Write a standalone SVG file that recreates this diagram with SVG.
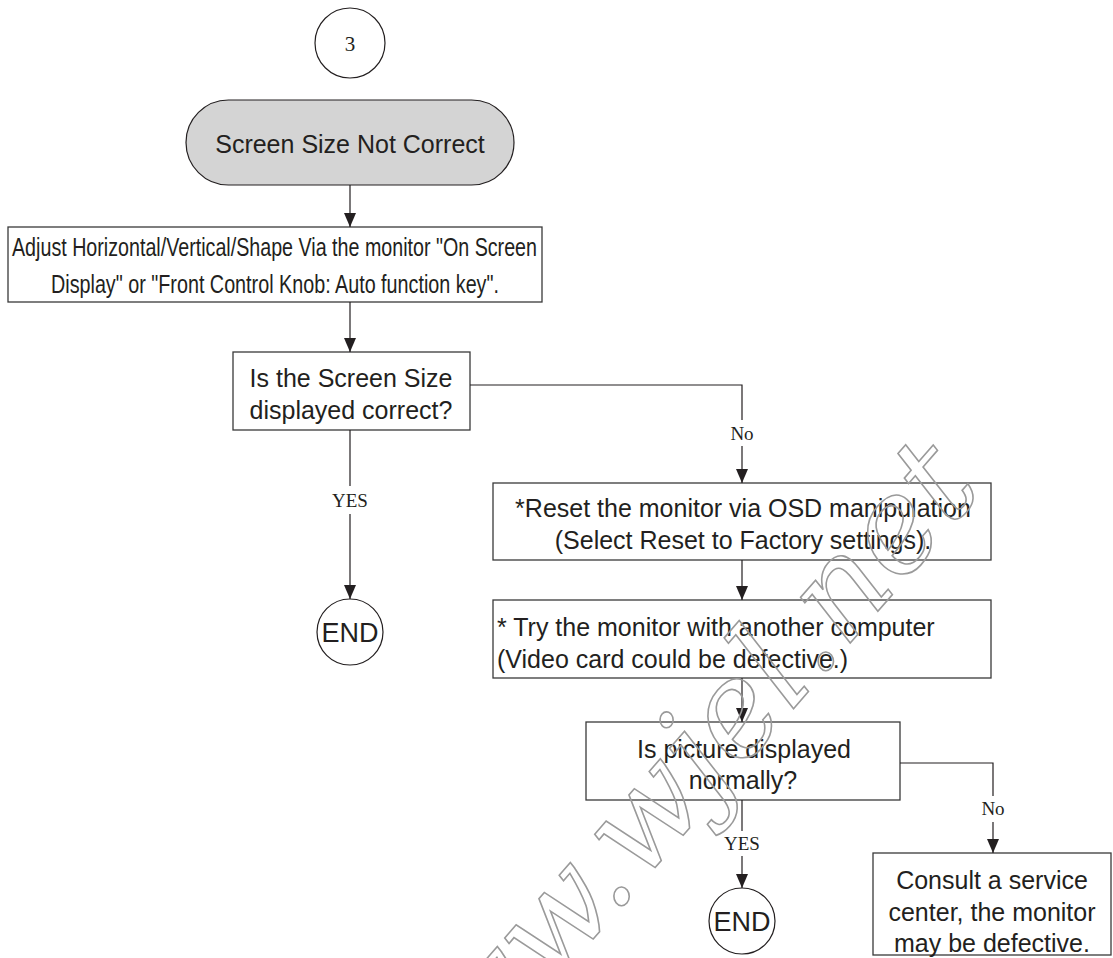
<svg xmlns="http://www.w3.org/2000/svg" width="1113" height="958" viewBox="0 0 1113 958">
<style>
.box{fill:#fff;stroke:#3a3a3a;stroke-width:1.3}
.t{font-family:"Liberation Sans",Arial,sans-serif;font-size:25px;fill:#231f20}
.c{text-anchor:middle}
.lbl{font-family:"Liberation Serif","Times New Roman",serif;font-size:19px;fill:#231f20;text-anchor:middle}
.ln{fill:none;stroke:#231f20;stroke-width:1.2}
.wm{font-family:"DejaVu Serif",serif;font-style:italic;font-size:130px;fill:none;stroke:#9a9a9a;stroke-width:1.6}
</style>
<defs>
<marker id="ah" viewBox="0 0 14 12" refX="14" refY="6" markerWidth="14" markerHeight="12" markerUnits="userSpaceOnUse" orient="auto">
<path d="M0,0 L14,6 L0,12 z" fill="#231f20"/>
</marker>
</defs>
<rect width="1113" height="958" fill="#fff"/>

<g id="start">
<circle cx="350" cy="43" r="35" fill="#fff" stroke="#231f20" stroke-width="1.2"/>
<text x="350" y="51" class="lbl" style="font-size:21px">3</text>
</g>

<g id="problem">
<rect x="186" y="100" width="328" height="85" rx="42.5" ry="42.5" fill="#d4d4d4" stroke="#231f20" stroke-width="1.2"/>
<text x="350" y="153" class="t c">Screen Size Not Correct</text>
</g>

<g id="adjust">
<rect x="8" y="227" width="534" height="75" class="box"/>
<text x="12" y="256" class="t" textLength="525" lengthAdjust="spacingAndGlyphs">Adjust Horizontal/Vertical/Shape Via the monitor "On Screen</text>
<text x="51" y="293" class="t" textLength="448" lengthAdjust="spacingAndGlyphs">Display" or "Front Control Knob: Auto function key".</text>
</g>

<g id="check1">
<rect x="233" y="352" width="237" height="78" class="box"/>
<text x="351" y="387" class="t c">Is the Screen Size</text>
<text x="351" y="419" class="t c">displayed correct?</text>
</g>

<g id="end1">
<circle cx="350" cy="632" r="33" fill="#fff" stroke="#231f20" stroke-width="1.2"/>
<text x="350" y="642" class="t c" style="font-size:27px">END</text>
</g>

<g id="reset">
<rect x="493" y="483" width="498" height="77" class="box"/>
<text x="743" y="517" class="t c">*Reset the monitor via OSD manipulation</text>
<text x="743" y="549" class="t c">(Select Reset to Factory settings).</text>
</g>

<g id="try">
<rect x="493" y="600" width="498" height="78" class="box"/>
<text x="497" y="636" class="t">* Try the monitor with another computer</text>
<text x="497" y="668" class="t">(Video card could be defective.)</text>
</g>

<g id="check2">
<rect x="586" y="722" width="314" height="78" class="box"/>
<text x="744" y="758" class="t c">Is picture displayed</text>
<text x="743" y="789" class="t c">normally?</text>
</g>

<g id="end2">
<circle cx="742" cy="921" r="33" fill="#fff" stroke="#231f20" stroke-width="1.2"/>
<text x="742" y="931" class="t c" style="font-size:27px">END</text>
</g>

<g id="service">
<rect x="873" y="853" width="238" height="102" class="box"/>
<text x="992" y="889" class="t c">Consult a service</text>
<text x="992" y="921" class="t c">center, the monitor</text>
<text x="992" y="952" class="t c">may be defective.</text>
</g>

<g id="connectors">
<path class="ln" d="M350,185 V227" marker-end="url(#ah)"/>
<path class="ln" d="M350,302 V352" marker-end="url(#ah)"/>
<path class="ln" d="M470,385 H742 V420"/>
<path class="ln" d="M742,446 V483" marker-end="url(#ah)"/>
<text x="742" y="440" class="lbl">No</text>
<path class="ln" d="M350,430 V486"/>
<path class="ln" d="M350,514 V599" marker-end="url(#ah)"/>
<text x="350" y="507" class="lbl">YES</text>
<path class="ln" d="M742,560 V600" marker-end="url(#ah)"/>
<path class="ln" d="M742,678 V722" marker-end="url(#ah)"/>
<path class="ln" d="M900,763 H993 V796"/>
<path class="ln" d="M993,822 V853" marker-end="url(#ah)"/>
<text x="993" y="815" class="lbl">No</text>
<path class="ln" d="M742,800 V831"/>
<path class="ln" d="M742,856 V888" marker-end="url(#ah)"/>
<text x="742" y="850" class="lbl">YES</text>
</g>

<g id="watermark">
<text x="694" y="823" class="wm" text-anchor="middle" transform="rotate(-49 694 823)">www.wjel.net</text>
</g>
</svg>
